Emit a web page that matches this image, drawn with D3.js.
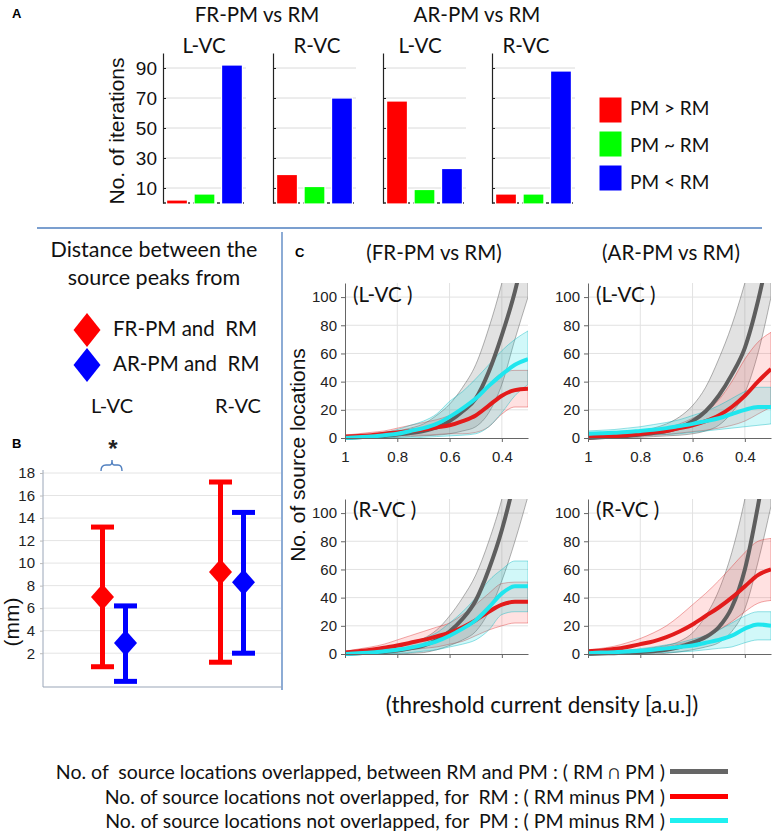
<!DOCTYPE html>
<html><head><meta charset="utf-8">
<script src="https://cdn.jsdelivr.net/npm/d3@7"></script>
<style>
body{margin:0;background:#fff;}
svg{display:block;}
.cal{font-family:Lato,"Open Sans",sans-serif;fill:#111;}
.ari{font-family:"Liberation Sans",Arial,sans-serif;}
</style></head><body>
<svg id="fig" width="774" height="833"></svg>
<script>
// ---------- Panel A data ----------
const barGroups = ["FR-PM vs RM", "AR-PM vs RM"];
const barPanels = ["L-VC", "R-VC", "L-VC", "R-VC"];
const barCats = ["PM > RM", "PM ~ RM", "PM < RM"];
const barColors = ["#ff0000", "#00ff00", "#0000ff"];
const barFRL = [2, 6, 92];
const barFRR = [19, 11, 70];
const barARL = [68, 9, 23];
const barARR = [6, 6, 88];
const barTicks = [10, 30, 50, 70, 90];

// ---------- Panel B data ----------
const distRegions = ["L-VC", "R-VC"];
const distMethods = ["FR-PM and  RM", "AR-PM and  RM"];
const distColors = ["#ff0000", "#0000ff"];
const distMeanFR = [7.0, 9.2];
const distMeanAR = [2.9, 8.3];
const distLowFR = [0.8, 1.2];
const distLowAR = [-0.5, 2.0];
const distHighFR = [13.2, 17.2];
const distHighAR = [6.2, 14.5];
const distTicks = [2, 4, 6, 8, 10, 12, 14, 16, 18];

// ---------- Panel C data ----------
const thr = [1, 0.95, 0.9, 0.85, 0.8, 0.75, 0.7, 0.65, 0.6, 0.55, 0.5, 0.45, 0.4, 0.35, 0.3];
const cYTicks = [0, 20, 40, 60, 80, 100];
const cXTicks = [1, 0.8, 0.6, 0.4];
const cXTickLabels = ["1", "0.8", "0.6", "0.4"];
// FR-PM vs RM, L-VC
const frL_ovM = [0,0.5,1,1.5,2.5,3.5,5,7.5,12,19,28,47,73,104,145];
const frL_ovLo = [0,0,0,0,0.5,1,1.5,2,3,5,8,18,38,70,100];
const frL_ovHi = [1,1.5,2.5,3.5,5,7,10,16,24,36,52,78,110,150,195];
const frL_rmM = [1,1.5,2,3,4,5,6,7.5,9,12,16,23,30,34,35];
const frL_rmLo = [0,0.5,1,1,1.5,2,2,2.5,3,3,4,8,17,22,22];
const frL_rmHi = [2,3,4,5,7,9,11,13,16,21,28,38,46,48,48];
const frL_pmM = [0,0.5,1,2,3,5,7,10,15,21,28,37,45,52,56];
const frL_pmLo = [0,0,0,0,0,0,0.5,1,1.5,2,3,8,18,30,38];
const frL_pmHi = [1,1.5,2.5,4,6,9,12,17,26,33,42,52,62,70,76];
// AR-PM vs RM, L-VC
const arL_ovM = [0,0.5,1,1.5,2.5,3.5,5,7.5,12,19,30,45,64,97,140];
const arL_ovLo = [0,0,0,0,0.5,1,1.5,2,3,5,9,18,32,60,100];
const arL_ovHi = [1,1.5,2.5,3.5,5,7,10,15,23,36,56,80,110,145,190];
const arL_rmM = [0.5,0.8,1.2,2,2.8,4,5,7,9,12,16,22,30,40,49];
const arL_rmLo = [0,0,0.3,0.8,1.3,2,2.5,3.5,4.5,5.5,7,9,12,17,22];
const arL_rmHi = [1,1.5,2,3,4,5.5,7,10,14,19,27,40,56,68,75];
const arL_pmM = [3,3.3,3.7,4.2,5,5.8,7,8.5,10,12,14,17,20,22,22];
const arL_pmLo = [1,1,1.2,1.5,2,2.2,2.5,3,4,5,6,7,8,9,10];
const arL_pmHi = [5,5.5,6,7,8,9.5,11,13,16,19,23,28,33,36,36];
// FR-PM vs RM, R-VC
const frR_ovM = [0,0.5,1,1.5,2.5,4,6,10,16,25,38,60,88,125,170];
const frR_ovLo = [0,0,0,0,0,0.5,1,3,6,10,16,30,52,80,112];
const frR_ovHi = [1,1.5,2.5,3.5,5,7.5,11,17,27,40,56,80,110,150,200];
const frR_rmM = [1,2,3,4.5,6,8,10,12.5,15,19,24,30,35,37,37];
const frR_rmLo = [0,0.5,1,1.5,2,3,4,5,7,9,13,17,20,22,22];
const frR_rmHi = [2,3.5,5,7,10,13,16,19,22,28,35,43,50,51,51];
const frR_pmM = [0,0.5,1,2,3,4.5,6.5,9,13,18,24,33,43,48,48];
const frR_pmLo = [0,0,0,0,0.5,1,2,3,5,7,10,17,28,30,30];
const frR_pmHi = [1,1.5,2.5,4,6,8.5,11,15,22,30,40,52,60,66,66];
// AR-PM vs RM, R-VC
const arR_ovM = [0,0.3,0.6,1,1.5,2,3,5,8,12,19,33,60,105,160];
const arR_ovLo = [0,0,0,0,0,0,0.5,1.5,3,5,8,16,32,65,105];
const arR_ovHi = [0.5,1,1.5,2,3,4.5,6,9,15,27,45,72,110,160,220];
const arR_rmM = [2,2.5,3.5,5,7,9,12,16,21,27,33,40,48,56,60];
const arR_rmLo = [1,1.5,2,2.5,3,4,5,7,9,12,17,23,30,36,38];
const arR_rmHi = [3,4,5.5,8,11,15,20,27,35,43,52,62,72,80,82];
const arR_pmM = [0.5,1,1.3,1.8,2.3,3,4,5,6,8,10,13,18,21,20];
const arR_pmLo = [0,0,0.2,0.4,0.6,0.8,1,1.5,2,3,4,5,8,10,10];
const arR_pmHi = [1,1.5,2,2.8,3.8,5,6.5,8,10.5,13,17,22,27,30,30];

const legendLabels = [
  "No. of  source locations overlapped, between RM and PM : ( RM \u2229 PM )",
  "No. of source locations not overlapped, for  RM : ( RM minus PM )",
  "No. of source locations not overlapped, for  PM : ( PM minus RM )"
];

const svg = d3.select("#fig");
const divColor = "#4f7fbf";

// ================= Panel A =================
svg.append("text").attr("class","ari").attr("x",12).attr("y",18).attr("font-size",13).attr("font-weight","bold").text("A");
const barValues = [barFRL, barFRR, barARL, barARR];
const aX0 = [163, 273, 383, 492];
const aW = 83;
const aTitleX = [204, 317, 420, 526];
const yA = d3.scaleLinear().domain([0,100]).range([203,53]);
barGroups.forEach((g,i)=>{
  svg.append("text").attr("class","cal").attr("x", i===0?257:477).attr("y",22)
    .attr("text-anchor","middle").attr("font-size",20.5).text(g);
});
barValues.forEach((vals,i)=>{
  const g = svg.append("g").attr("transform",`translate(${aX0[i]},0)`);
  const x = d3.scaleBand().domain(barCats).range([0,aW]).paddingInner(0.24).paddingOuter(0.13);
  g.selectAll("line.grid").data(barTicks).join("line")
    .attr("x1",0).attr("x2",aW).attr("y1",d=>yA(d)).attr("y2",d=>yA(d))
    .attr("stroke","#dadada").attr("stroke-width",1);
  g.append("line").attr("x1",0).attr("x2",aW).attr("y1",yA(0)).attr("y2",yA(0))
    .attr("stroke","#333").attr("stroke-width",1.5).attr("stroke-dasharray","3,3");
  g.selectAll("rect").data(vals).join("rect")
    .attr("x",(d,j)=>x(barCats[j])).attr("width",x.bandwidth())
    .attr("y",d=>yA(d)).attr("height",d=>yA(0)-yA(d)+1)
    .attr("fill",(d,j)=>barColors[j]).attr("stroke","#fff").attr("stroke-width",1.2);
  const ax = d3.axisLeft(yA).tickValues(barTicks).tickSizeInner(-3).tickSizeOuter(0).tickPadding(6)
    .tickFormat(i===0 ? d3.format("d") : ()=>"");
  const ag = g.append("g").call(ax);
  ag.select(".domain").attr("stroke","#222").attr("stroke-width",1.2);
  ag.selectAll(".tick line").attr("stroke","#222");
  ag.selectAll("text").attr("font-family","Liberation Sans, Arial, sans-serif").attr("font-size",19).attr("fill","#111");
  svg.append("text").attr("class","cal").attr("x",aTitleX[i]).attr("y",53)
    .attr("text-anchor","middle").attr("font-size",20.5).text(barPanels[i]);
});
svg.append("text").attr("class","ari").attr("transform","translate(124,131) rotate(-90)")
  .attr("text-anchor","middle").attr("font-size",21).attr("fill","#111").text("No. of iterations");
// legend A
barCats.forEach((c,j)=>{
  svg.append("rect").attr("x",599).attr("y",97+34*j).attr("width",23).attr("height",26)
    .attr("fill",barColors[j]).attr("stroke","#fff");
  svg.append("text").attr("class","cal").attr("x",630).attr("y",115+37*j)
    .attr("font-size",19).text(c);
});

// dividers
svg.append("line").attr("x1",37).attr("x2",762).attr("y1",228).attr("y2",228).attr("stroke",divColor).attr("stroke-width",1.3);
svg.append("line").attr("x1",282).attr("x2",282).attr("y1",232).attr("y2",690).attr("stroke",divColor).attr("stroke-width",1.3);

// ================= Panel B =================
svg.append("text").attr("class","cal").attr("x",154).attr("y",257).attr("text-anchor","middle").attr("font-size",21.5).text("Distance between the");
svg.append("text").attr("class","cal").attr("x",154).attr("y",285).attr("text-anchor","middle").attr("font-size",21.5).text("source peaks from");
function diamond(cx,cy,w,h){return `M${cx},${cy-h/2}L${cx+w/2},${cy}L${cx},${cy+h/2}L${cx-w/2},${cy}Z`;}
distMethods.forEach((m,k)=>{
  const cy = [330,365][k];
  svg.append("path").attr("d",diamond(87,cy,27,34)).attr("fill",distColors[k]);
  svg.append("text").attr("class","cal").attr("x",113).attr("y",cy+6).attr("font-size",20.5).style("white-space","pre").text(m);
});
distRegions.forEach((r,i)=>{
  svg.append("text").attr("class","cal").attr("x",[112,238][i]).attr("y",413).attr("text-anchor","middle").attr("font-size",20).text(r);
});
svg.append("text").attr("class","ari").attr("x",12).attr("y",448).attr("font-size",13).attr("font-weight","bold").text("B");
const yB = d3.scaleLinear().domain([-1,18]).range([687,473]);
const xB = d3.scalePoint().domain(distRegions).range([114,232]);
svg.selectAll("line.bgrid").data(distTicks).join("line").attr("class","bgrid")
  .attr("x1",43).attr("x2",281).attr("y1",d=>yB(d)).attr("y2",d=>yB(d)).attr("stroke","#e4e4e4");
const bAx = svg.append("g").attr("transform","translate(43,0)")
  .call(d3.axisLeft(yB).tickValues(distTicks).tickSizeInner(3).tickSizeOuter(0).tickPadding(5));
bAx.select(".domain").attr("stroke","#9aa6b8").attr("d",`M-0,${yB(18)-3}V${yB(-1)}`);
bAx.selectAll(".tick line").attr("stroke","#bbb");
bAx.selectAll("text").attr("font-family","Liberation Sans, Arial, sans-serif").attr("font-size",15).attr("fill","#222");
svg.append("line").attr("x1",43).attr("x2",282).attr("y1",yB(-1)).attr("y2",yB(-1)).attr("stroke","#9aa6b8").attr("stroke-width",1.2);
svg.append("text").attr("class","ari").attr("transform","translate(19,622) rotate(-90)")
  .attr("text-anchor","middle").attr("font-size",21).attr("fill","#111").text("(mm)");
const distSets = [[distMeanFR,distLowFR,distHighFR],[distMeanAR,distLowAR,distHighAR]];
distSets.forEach(([mean,lo,hi],k)=>{
  const off = k===0 ? -11.5 : 11.5;
  distRegions.forEach((r,i)=>{
    const cx = xB(r)+off;
    const g = svg.append("g").attr("fill",distColors[k]).attr("stroke",distColors[k]);
    g.append("line").attr("x1",cx).attr("x2",cx).attr("y1",yB(hi[i])).attr("y2",yB(lo[i])).attr("stroke-width",5);
    g.append("rect").attr("x",cx-11.5).attr("width",23).attr("y",yB(hi[i])-2.5).attr("height",5).attr("stroke","none");
    g.append("rect").attr("x",cx-11.5).attr("width",23).attr("y",yB(lo[i])-2.5).attr("height",5).attr("stroke","none");
    g.append("path").attr("d",diamond(cx,yB(mean[i]),23,26)).attr("stroke","none");
  });
});
// significance brace
svg.append("path").attr("d","M101,471 Q101,465 106,465 L110,465 Q112,465 112,460 Q112,465 114,465 L118,465 Q122,465 122,471")
  .attr("fill","none").attr("stroke",divColor).attr("stroke-width",1.4);
svg.append("text").attr("class","ari").attr("x",113).attr("y",457).attr("text-anchor","middle").attr("font-size",24).attr("font-weight","bold").attr("fill","#222").text("*");

// ================= Panel C =================
svg.append("text").attr("class","ari").attr("x",295).attr("y",257).attr("font-size",13).attr("font-weight","bold").text("C");
svg.append("text").attr("class","cal").attr("x",434).attr("y",260).attr("text-anchor","middle").attr("font-size",20.5).text("(FR-PM vs RM)");
svg.append("text").attr("class","cal").attr("x",671).attr("y",260).attr("text-anchor","middle").attr("font-size",20.5).text("(AR-PM vs RM)");

const seriesStyle = {
  ov:{fill:"rgba(125,125,125,0.22)", edge:"rgba(80,80,80,0.55)", line:"#5e5e5e"},
  rm:{fill:"rgba(255,70,70,0.16)", edge:"rgba(220,40,40,0.5)", line:"#e31b1b"},
  pm:{fill:"rgba(0,215,220,0.18)", edge:"rgba(0,180,190,0.5)", line:"#1fe6ee"}
};
const subplots = [
  {label:"(L-VC )", col:0, row:0, ov:[frL_ovM,frL_ovLo,frL_ovHi], rm:[frL_rmM,frL_rmLo,frL_rmHi], pm:[frL_pmM,frL_pmLo,frL_pmHi]},
  {label:"(L-VC )", col:1, row:0, ov:[arL_ovM,arL_ovLo,arL_ovHi], rm:[arL_rmM,arL_rmLo,arL_rmHi], pm:[arL_pmM,arL_pmLo,arL_pmHi]},
  {label:"(R-VC )", col:0, row:1, ov:[frR_ovM,frR_ovLo,frR_ovHi], rm:[frR_rmM,frR_rmLo,frR_rmHi], pm:[frR_pmM,frR_pmLo,frR_pmHi]},
  {label:"(R-VC )", col:1, row:1, ov:[arR_ovM,arR_ovLo,arR_ovHi], rm:[arR_rmM,arR_rmLo,arR_rmHi], pm:[arR_pmM,arR_pmLo,arR_pmHi]}
];
const cX0 = [345, 588], cW = 183, cY0 = [438, 654], cH = 155;
subplots.forEach((sp,si)=>{
  const x0 = cX0[sp.col], yb = cY0[sp.row];
  const x = d3.scaleLinear().domain([1,0.3]).range([x0, x0+cW]);
  const y = d3.scaleLinear().domain([0,110]).range([yb, yb-cH]);
  const g = svg.append("g");
  // grid
  g.selectAll("line.hg").data(cYTicks.filter(d=>d>0)).join("line")
    .attr("x1",x0).attr("x2",x0+cW).attr("y1",d=>y(d)).attr("y2",d=>y(d)).attr("stroke","#e2e2e2");
  g.selectAll("line.vg").data(cXTicks.filter(d=>d<1)).join("line")
    .attr("x1",d=>x(d)).attr("x2",d=>x(d)).attr("y1",yb).attr("y2",yb-cH).attr("stroke","#e2e2e2");
  const cid = "clip"+si;
  svg.append("clipPath").attr("id",cid).append("rect").attr("x",x0).attr("y",yb-cH).attr("width",cW).attr("height",cH+3);
  const pg = g.append("g").attr("clip-path",`url(#${cid})`);
  ["ov","rm","pm"].forEach(k=>{
    const [m,lo,hi] = sp[k];
    const area = d3.area().x((d,i)=>x(thr[i])).y0((d,i)=>y(lo[i])).y1((d,i)=>y(hi[i])).curve(d3.curveMonotoneX);
    pg.append("path").attr("d",area(thr)).attr("fill",seriesStyle[k].fill)
      .attr("stroke",seriesStyle[k].edge).attr("stroke-width",0.8);
  });
  ["ov","rm","pm"].forEach(k=>{
    const [m] = sp[k];
    const line = d3.line().x((d,i)=>x(thr[i])).y((d,i)=>y(m[i])).curve(d3.curveMonotoneX);
    pg.append("path").attr("d",line(thr)).attr("fill","none")
      .attr("stroke",seriesStyle[k].line).attr("stroke-width",4);
  });
  // axes
  const ay = g.append("g").attr("transform",`translate(${x0},0)`)
    .call(d3.axisLeft(y).tickValues(cYTicks).tickSizeInner(4).tickSizeOuter(0).tickPadding(4));
  ay.select(".domain").attr("stroke","#666");
  ay.selectAll(".tick line").attr("stroke","#666");
  ay.selectAll("text").attr("font-family","Liberation Sans, Arial, sans-serif").attr("font-size",15).attr("fill","#222");
  const axb = g.append("g").attr("transform",`translate(0,${yb})`)
    .call(d3.axisBottom(x).tickValues(cXTicks).tickSizeInner(4).tickSizeOuter(0).tickPadding(9)
      .tickFormat((d,i)=> sp.row===0 ? cXTickLabels[i] : ""));
  axb.select(".domain").attr("stroke","#666");
  axb.selectAll(".tick line").attr("stroke","#666");
  axb.selectAll("text").attr("font-family","Liberation Sans, Arial, sans-serif").attr("font-size",15).attr("fill","#222");
  g.append("text").attr("class","cal").attr("x",x0+8).attr("y",sp.row===0?302:517).attr("font-size",20.5).text(sp.label);
});
svg.append("text").attr("class","ari").attr("transform","translate(305,455) rotate(-90)")
  .attr("text-anchor","middle").attr("font-size",21).attr("fill","#111").text("No. of source locations");
svg.append("text").attr("class","cal").attr("x",542).attr("y",713).attr("text-anchor","middle").attr("font-size",22.5).text("(threshold current density [a.u.])");

// bottom legend
const legColors = ["#666666", "#ff0000", "#1ff0f0"];
legendLabels.forEach((t,i)=>{
  const yy = [779, 804, 828][i];
  svg.append("text").attr("class","cal").attr("x",665).attr("y",yy).attr("text-anchor","end")
    .attr("font-size",19.5).style("white-space","pre").text(t);
  svg.append("rect").attr("x",670).attr("y",yy-10).attr("width",58).attr("height",5).attr("fill",legColors[i]);
});
</script>
</body></html>
